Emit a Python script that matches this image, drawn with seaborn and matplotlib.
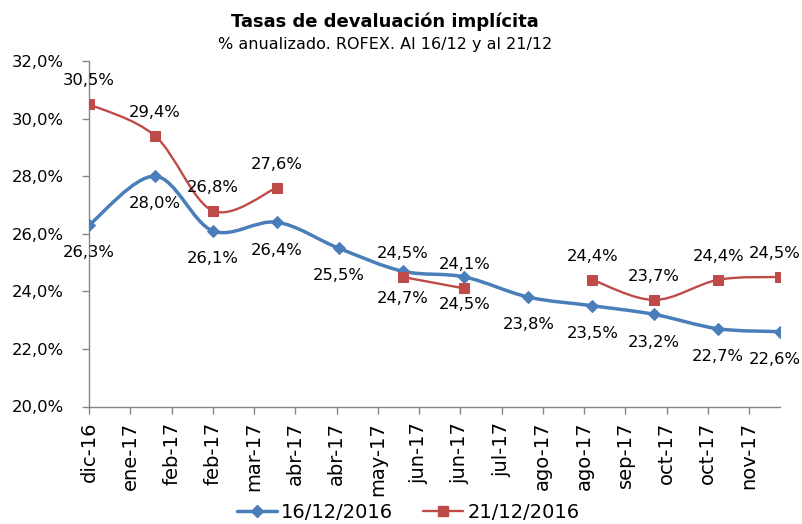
import numpy as np
import pandas as pd
import matplotlib
matplotlib.use('Agg')
import matplotlib.pyplot as plt
import matplotlib.dates as mdates
from matplotlib.path import Path
from matplotlib.patches import PathPatch
from matplotlib.lines import Line2D
from matplotlib.ticker import FuncFormatter
import seaborn as sns

# Data (end of month ROFEX contracts)
fechas = ['2016-12-30', '2017-01-31', '2017-02-28', '2017-03-31', '2017-04-30', '2017-05-31',
          '2017-06-30', '2017-07-31', '2017-08-31', '2017-09-30', '2017-10-31', '2017-11-30']
tasa_16_12 = [26.3, 28.0, 26.1, 26.4, 25.5, 24.7, 24.5, 23.8, 23.5, 23.2, 22.7, 22.6]
tasa_21_12 = [30.5, 29.4, 26.8, 27.6, np.nan, 24.5, 24.1, np.nan, 24.4, 23.7, 24.4, 24.5]
x_labels = ['dic-16', 'ene-17', 'feb-17', 'feb-17', 'mar-17', 'abr-17', 'abr-17', 'may-17',
            'jun-17', 'jun-17', 'jul-17', 'ago-17', 'ago-17', 'sep-17', 'oct-17', 'oct-17', 'nov-17']
y_ticks = [20, 22, 24, 26, 28, 30, 32]

azul = '#4A7EBB'
rojo = '#BE4B48'

df = pd.DataFrame({'fecha': pd.to_datetime(fechas), 'a': tasa_16_12, 'b': tasa_21_12})

sns.set_theme(style='white')
plt.rcParams['font.family'] = ['DejaVu Sans']
plt.rcParams['text.color'] = 'black'
plt.rcParams['xtick.labelcolor'] = 'black'
plt.rcParams['ytick.labelcolor'] = 'black'

fig = plt.figure(figsize=(8.03, 5.24), dpi=100)
ax = fig.add_axes([89 / 803, 1 - 406.5 / 524, (780 - 89) / 803, (406.5 - 61) / 524])


# Excel-style smoothed line (Catmull-Rom -> cubic bezier), drawn in data coords
def smooth_line(x, y, color, lw):
    x = np.asarray(x, float)
    y = np.asarray(y, float)
    ok = ~np.isnan(y)
    # split into runs of valid points
    runs = []
    cur = []
    for i in range(len(y)):
        if ok[i]:
            cur.append(i)
        else:
            if cur:
                runs.append(cur)
            cur = []
    if cur:
        runs.append(cur)
    for r in runs:
        px, py = x[r], y[r]
        if len(r) == 1:
            continue
        verts = [(px[0], py[0])]
        codes = [Path.MOVETO]
        n = len(r)
        for i in range(n - 1):
            i0 = max(i - 1, 0)
            i3 = min(i + 2, n - 1)
            c1 = (px[i] + (px[i + 1] - px[i0]) / 6, py[i] + (py[i + 1] - py[i0]) / 6)
            c2 = (px[i + 1] - (px[i3] - px[i]) / 6, py[i + 1] - (py[i3] - py[i]) / 6)
            verts += [c1, c2, (px[i + 1], py[i + 1])]
            codes += [Path.CURVE4] * 3
        ax.add_patch(PathPatch(Path(verts, codes), fill=False, edgecolor=color, lw=lw,
                               capstyle='round', joinstyle='round', zorder=2))


xnum = mdates.date2num(df['fecha'])
smooth_line(xnum, df['a'], azul, 2.5)
smooth_line(xnum, df['b'], rojo, 1.7)

# markers
sns.lineplot(data=df, x='fecha', y='a', ax=ax, marker='D', markersize=6.5, color=azul,
             markeredgecolor=azul, linewidth=0, legend=False, zorder=3)
sns.lineplot(data=df, x='fecha', y='b', ax=ax, marker='s', markersize=7.5, color=rojo,
             markeredgecolor=rojo, linewidth=0, legend=False, zorder=3)


def fmt(v):
    return f'{v:.1f}%'.replace('.', ',')


# data labels: blue below, red above
for i, (f, v) in enumerate(zip(df['fecha'], df['a'])):
    dx = -4 if i == len(df) - 1 else 0
    ax.annotate(fmt(v), (f, v), xytext=(dx, -20), textcoords='offset points',
                ha='center', va='center', fontsize=11.8, color='black', zorder=4)
for i, (f, v) in enumerate(zip(df['fecha'], df['b'])):
    if np.isnan(v):
        continue
    dx = -4 if i == len(df) - 1 else 0
    ax.annotate(fmt(v), (f, v), xytext=(dx, 17), textcoords='offset points',
                ha='center', va='center', fontsize=11.8, color='black', zorder=4)

# axes
ax.set_ylim(20, 32)
ax.set_yticks(y_ticks)
ax.yaxis.set_major_formatter(FuncFormatter(lambda v, p: fmt(v)))
tick_pos = pd.date_range(df['fecha'].iloc[0], periods=len(x_labels), freq='20D')
ax.set_xlim(df['fecha'].iloc[0], df['fecha'].iloc[-1])
ax.set_xticks(tick_pos)
ax.set_xticklabels(x_labels, rotation=90, fontsize=14)
ax.tick_params(axis='y', labelsize=11.8, length=5, width=1, color='#868686', direction='out',
               pad=13, left=True)
ax.tick_params(axis='x', length=5, width=1, color='#868686', direction='out', pad=6, bottom=True)
ax.set_xlabel('')
ax.set_ylabel('')
for s in ['top', 'right']:
    ax.spines[s].set_visible(False)
for s in ['left', 'bottom']:
    ax.spines[s].set_color('#868686')
    ax.spines[s].set_linewidth(1)
ax.grid(False)

# titles
fig.text(385 / 803, 1 - 22 / 524, 'Tasas de devaluación implícita', ha='center', va='center',
         fontsize=13, fontweight='bold')
fig.text(385 / 803, 1 - 45 / 524, '% anualizado. ROFEX. Al 16/12 y al 21/12', ha='center',
         va='center', fontsize=11.5)

# legend
handles = [Line2D([], [], color=azul, lw=2.5, marker='D', markersize=6.5),
           Line2D([], [], color=rojo, lw=1.7, marker='s', markersize=7.5)]
fig.legend(handles, ['16/12/2016', '21/12/2016'], loc='center', ncol=2,
           bbox_to_anchor=(408 / 803, 1 - 512 / 524), frameon=False, fontsize=14,
           handlelength=2.1, handletextpad=0.2, columnspacing=1.5)

fig.savefig('out.png', dpi=100)
